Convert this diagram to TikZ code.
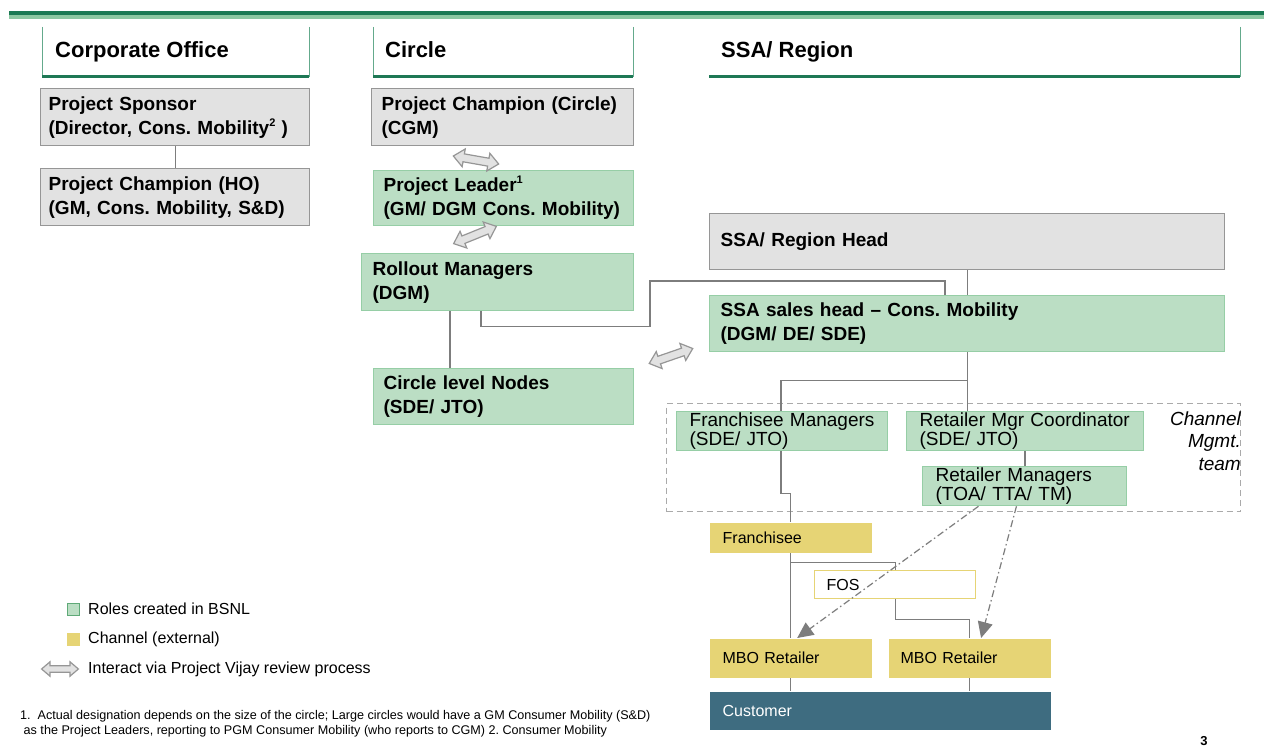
\documentclass[tikz,border=0pt]{standalone}
\usepackage{fontspec}
\setmainfont{Liberation Sans}
\usetikzlibrary{arrows.meta,calc}
\frenchspacing

\definecolor{bandDark}{RGB}{27,122,84}
\definecolor{bandLight}{RGB}{140,200,162}
\definecolor{headLine}{RGB}{30,120,85}
\definecolor{headSide}{RGB}{100,170,140}
\definecolor{greyFill}{RGB}{226,226,226}
\definecolor{greyEdge}{RGB}{150,150,150}
\definecolor{roleFill}{RGB}{187,222,196}
\definecolor{roleEdge}{RGB}{150,206,166}
\definecolor{keyEdge}{RGB}{95,170,120}
\definecolor{chanFill}{RGB}{230,212,117}
\definecolor{custFill}{RGB}{62,108,128}
\definecolor{wireGrey}{RGB}{125,125,125}
\definecolor{teamEdge}{RGB}{170,170,170}

\tikzset{
  box/.style={anchor=north west, inner ysep=0pt, align=left, line width=1.3pt,
    font=\fontsize{19}{24}\selectfont\bfseries},
  execbox/.style={box, fill=greyFill, draw=greyEdge},
  rolebox/.style={box, fill=roleFill, draw=roleEdge},
  teambox/.style={rolebox, font=\fontsize{19}{19}\selectfont},
  chanbox/.style={box, fill=chanFill, draw=none, font=\fontsize{16}{19}\selectfont},
  fosbox/.style={box, fill=white, draw=chanFill, font=\fontsize{16}{19}\selectfont},
  custbox/.style={box, fill=custFill, draw=none, text=white, font=\fontsize{16}{19}\selectfont},
  headtext/.style={anchor=base west, inner sep=0pt, font=\fontsize{22}{26}\selectfont\bfseries},
  keytext/.style={anchor=west, inner sep=0pt, font=\fontsize{16}{19}\selectfont},
  wire/.style={draw=wireGrey, line width=1.3pt},
  dashdot/.style={draw=wireGrey, line width=1.2pt,
    dash pattern=on 7pt off 3pt on 1.5pt off 3pt,
    -{Triangle[length=16pt,width=15pt]}},
  review/.pic={
    \draw[fill=greyFill, draw=greyEdge, line width=1.2pt]
      (-23,0) -- (-12.5,9) -- (-12.5,4) -- (12.5,4) -- (12.5,9) -- (23,0)
      -- (12.5,-9) -- (12.5,-4) -- (-12.5,-4) -- (-12.5,-9) -- cycle;
  },
}

% small raised note mark
\newcommand\notemark[1]{\raisebox{0.42em}{\fontsize{11}{11}\selectfont #1}}

% box with left-aligned text: style, name, x, y, width, height, padding, text
\newcommand\orgbox[8]{%
  \pgfmathsetmacro\orgtw{#5-2*#7}%
  \node[#1, text width=\orgtw pt, inner xsep=#7pt, minimum height=#6pt] (#2) at (#3,#4) {#8};}

\begin{document}
\begin{tikzpicture}[x=1pt,y=-1pt]
\useasboundingbox (0,0) rectangle (1264,754);
\fill[white] (0,0) rectangle (1264,754);

% title band
\fill[bandDark] (9,11) rectangle (1264,15);
\fill[bandLight] (9,15) rectangle (1264,19);

% column headers
\draw[headSide, line width=1pt] (42,27) -- (42,77) (309,27) -- (309,77);
\draw[headLine, line width=3pt] (42,77) -- (309,77);
\node[headtext] (hCorp) at (55,58) {Corporate Office};
\draw[headSide, line width=1pt] (373,27) -- (373,77) (633,27) -- (633,77);
\draw[headLine, line width=3pt] (373,77) -- (633,77);
\node[headtext] (hCircle) at (385,58) {Circle};
\draw[headSide, line width=1pt] (1240,27) -- (1240,77);
\draw[headLine, line width=3pt] (709,77) -- (1240,77);
\node[headtext] (hSSA) at (721,58) {SSA/ Region};

% corporate office
\orgbox{execbox}{sponsor}{40}{88}{269}{57}{8}{Project Sponsor\\(Director, Cons. Mobility\notemark{2} )}
\orgbox{execbox}{champHO}{40}{168}{269}{57}{8}{Project Champion (HO)\\(GM, Cons. Mobility, S\&D)}

% circle
\orgbox{execbox}{champC}{371}{88}{262}{57}{10}{Project Champion (Circle)\\(CGM)}
\orgbox{rolebox}{leader}{373}{170}{260}{55}{10}{Project Leader\notemark{1}\\(GM/ DGM Cons. Mobility)}
\orgbox{rolebox}{rollout}{361}{253}{272}{57}{11}{Rollout Managers\\(DGM)}
\orgbox{rolebox}{nodes}{373}{368}{260}{56}{10}{Circle level Nodes\\(SDE/ JTO)}

% SSA / region
\orgbox{execbox}{ssahead}{709}{213}{515}{56}{11}{SSA/ Region Head}
\orgbox{rolebox}{sales}{709}{295}{515}{56}{11}{SSA sales head -- Cons. Mobility\\(DGM/ DE/ SDE)}

% channel management team
\node[draw=teamEdge, dashed, dash pattern=on 6pt off 4pt, line width=1.2pt,
  anchor=north west, minimum width=574pt, minimum height=108pt, inner sep=0pt] (team) at (666,403) {};
\orgbox{teambox}{franMgr}{676}{411}{211}{39}{13}{Franchisee Managers\\(SDE/ JTO)}
\orgbox{teambox}{retCoord}{906}{411}{237}{39}{13}{Retailer Mgr Coordinator\\(SDE/ JTO)}
\orgbox{teambox}{retMgr}{922}{466}{204}{39}{13}{Retailer Managers\\(TOA/ TTA/ TM)}
\node[anchor=east, align=right, inner sep=0pt, font=\fontsize{19}{22.5}\selectfont\itshape]
  (teamLabel) at (1241,441) {Channel\\Mgmt.\\team};

% channel
\orgbox{chanbox}{franchisee}{709}{522}{162}{30}{13}{Franchisee}
\orgbox{fosbox}{fos}{814}{570}{161}{28}{12}{FOS}
\orgbox{chanbox}{mboA}{709}{638}{162}{39}{13}{MBO Retailer}
\orgbox{chanbox}{mboB}{888}{638}{162}{39}{12}{MBO Retailer}
\orgbox{custbox}{customer}{709}{691}{341}{38}{13}{Customer}

% reporting lines
\draw[wire] (sponsor.south) -- (champHO.north);
\coordinate (rDrop) at ($(rollout.south west)+(89,0)$);
\draw[wire] (rDrop) -- (rDrop |- nodes.north);
\coordinate (rLink) at ($(rollout.south west)+(120,0)$);
\coordinate (sLink) at ($(sales.north west)+(236,0)$);
\draw[wire] (rLink) -- ++(0,15) -| (650,281) -| (sLink);
\draw[wire] (ssahead.south) -- (sales.north);
\coordinate (split) at ($(sales.south)+(0,28)$);
\coordinate (fmTop) at ($(franMgr.north west)+(105,0)$);
\draw[wire] (sales.south) -- (split) -| (fmTop);
\draw[wire] (split) -- (split |- retCoord.north);
\coordinate (rcDrop) at ($(retCoord.south west)+(119,0)$);
\draw[wire] (rcDrop) -- (rcDrop |- retMgr.north);
\coordinate (fmDrop) at ($(franMgr.south west)+(105,0)$);
\draw[wire] (fmDrop) -- ++(0,42) -| (franchisee.north);
\draw[wire] (franchisee.south) -- (mboA.north);
\draw[wire] ($(franchisee.south)+(0,9)$) -| (fos.north);
\draw[wire] (fos.south) -- ++(0,20) -| (mboB.north);
\draw[wire] (mboA.south) -- (mboA.south |- customer.north);
\draw[wire] (mboB.south) -- (mboB.south |- customer.north);

% retailer manager coverage
\draw[dashdot] ($(retMgr.south west)!0.275!(retMgr.south east)$) -- ($(mboA.north west)!0.54!(mboA.north east)$);
\draw[dashdot] ($(retMgr.south west)!0.46!(retMgr.south east)$) -- ($(mboB.north west)!0.57!(mboB.north east)$);

% review interactions
\pic[rotate=-10] at (476,160) {review};
\pic[rotate=22] at (475,235) {review};
\pic[rotate=19] at (671,356) {review};

% key
\node[draw=keyEdge, fill=roleFill, line width=1pt, minimum size=12pt, inner sep=0pt] (keyRole) at (73,609) {};
\node[keytext] (keyRoleText) at (88,609) {Roles created in BSNL};
\node[fill=chanFill, minimum size=13pt, inner sep=0pt] (keyChan) at (73,639) {};
\node[keytext] (keyChanText) at (88,639) {Channel (external)};
\pic[scale=0.8] at (60,669) {review};
\node[keytext] (keyReviewText) at (88,669) {Interact via Project Vijay review process};

% footnotes and page number
\node[anchor=north west, align=left, inner sep=0pt, font=\fontsize{12.6}{15}\selectfont] (notes) at (20,710)
  {1.\ \ Actual designation depends on the size of the circle; Large circles would have a GM Consumer Mobility (S\&D)\\
   \ as the Project Leaders, reporting to PGM Consumer Mobility (who reports to CGM) 2. Consumer Mobility};
\node[inner sep=0pt, font=\fontsize{13}{15}\selectfont\bfseries] (pageNo) at (1204,741) {3};
\end{tikzpicture}
\end{document}
